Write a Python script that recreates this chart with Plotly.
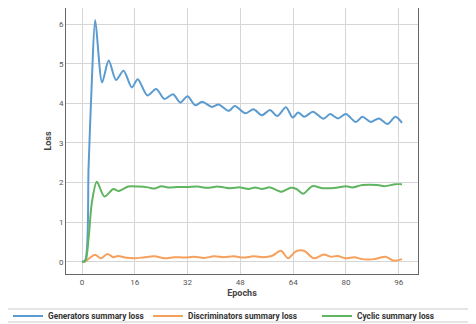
import plotly.graph_objects as go

# Generators summary loss (epoch, value)
gen_epochs = [0, 1, 2, 3, 4, 6.1, 8.1, 10.3, 12.6, 15.1, 16.9, 19.8, 22.5, 25.0, 27.6, 29.8,
              32.0, 34.3, 36.4, 39.4, 41.4, 44.5, 46.3, 49.5, 52.0, 54.5, 57.0, 59.2, 61.8,
              63.9, 65.5, 67.4, 70.0, 73.2, 75.2, 77.6, 80.0, 83.0, 85.0, 87.5, 90.0, 92.6, 95.0, 97.0]
gen_loss = [0.0, 0.05, 2.4, 4.6, 6.1, 4.53, 5.08, 4.59, 4.82, 4.40, 4.61, 4.20, 4.36, 4.11, 4.23, 4.02,
            4.18, 3.95, 4.04, 3.91, 3.97, 3.81, 3.93, 3.75, 3.85, 3.70, 3.83, 3.68, 3.90,
            3.64, 3.77, 3.66, 3.79, 3.61, 3.73, 3.62, 3.73, 3.53, 3.66, 3.53, 3.62, 3.48, 3.66, 3.51]

# Discriminators summary loss
disc_epochs = [0, 1, 2, 4, 5.7, 7.7, 9.5, 11, 13, 16, 19, 22, 25, 28, 31, 34, 37, 40, 43, 46, 49,
               52, 55, 57.5, 60.3, 62.5, 64.7, 67.3, 70.3, 73.3, 75.4, 77.4, 80, 82.5, 85, 88.6,
               92, 94.6, 97]
disc_loss = [0.0, 0.01, 0.08, 0.18, 0.09, 0.20, 0.12, 0.15, 0.11, 0.09, 0.12, 0.14, 0.09, 0.12,
             0.11, 0.13, 0.10, 0.14, 0.12, 0.14, 0.11, 0.14, 0.12, 0.15, 0.28, 0.09, 0.26, 0.28,
             0.09, 0.19, 0.13, 0.15, 0.09, 0.12, 0.07, 0.07, 0.13, 0.03, 0.07]

# Cyclic summary loss
cyc_epochs = [0, 1, 2, 3, 4.5, 6.8, 9.5, 11, 14, 17, 20, 22, 24, 26, 29, 32, 35, 38, 41, 43, 45,
              48, 50.5, 52.5, 54.5, 57, 60.3, 63.3, 65, 67, 69.8, 73, 77, 80, 82, 85, 89.5,
              91.6, 95, 97]
cyc_loss = [0.0, 0.02, 0.6, 1.5, 2.02, 1.65, 1.84, 1.79, 1.90, 1.90, 1.88, 1.85, 1.91, 1.88, 1.89,
            1.89, 1.90, 1.87, 1.90, 1.88, 1.86, 1.88, 1.84, 1.88, 1.84, 1.88, 1.77, 1.87, 1.84,
            1.72, 1.91, 1.86, 1.87, 1.91, 1.88, 1.94, 1.94, 1.91, 1.96, 1.96]

x_ticks = [0, 16, 32, 48, 64, 80, 96]
y_ticks = [0, 1, 2, 3, 4, 5, 6]

names = ["Generators summary loss", "Discriminators summary loss", "Cyclic summary loss"]
colors = ["#5b9bd0", "#f5a05c", "#5fb560"]

fig = go.Figure()
series = [(gen_epochs, gen_loss), (disc_epochs, disc_loss), (cyc_epochs, cyc_loss)]
legends = ["legend", "legend2", "legend3"]
for (xs, ys), name, col, lg in zip(series, names, colors, legends):
    fig.add_trace(go.Scatter(x=xs, y=ys, mode="lines", name=name, legend=lg, showlegend=True,
                             line=dict(color=col, width=2, shape="spline", smoothing=0.8)))

# page body has an 8px margin, so the figure is 8px smaller than the window
W, H = 468, 316
legfont = dict(family="Roboto", size=8.3, color="#333333", weight="bold")
common = dict(orientation="h", xref="container", yref="container", xanchor="left",
              yanchor="middle", y=(H - 308) / H, bgcolor="rgba(0,0,0,0)", borderwidth=0,
              font=legfont, visible=True)

fig.update_layout(
    width=W, height=H, showlegend=True,
    margin=dict(l=58, r=58, t=0, b=50, autoexpand=False),
    paper_bgcolor="white", plot_bgcolor="white",
    font=dict(family="Roboto", size=8, color="#555555"),
    xaxis=dict(range=[-4.85, 101.85], tickvals=x_ticks, showgrid=True, gridcolor="#d6d6d6",
               gridwidth=1, zeroline=False, showline=True, linecolor="#666666", linewidth=1,
               mirror=True, ticks="", tickfont=dict(size=8, color="#555555"),
               title=dict(text="<b>Epochs</b>", font=dict(size=9, color="#444444"), standoff=4)),
    yaxis=dict(range=[-0.305, 6.405], tickvals=y_ticks, showgrid=True, gridcolor="#d6d6d6",
               gridwidth=1, zeroline=False, showline=True, linecolor="#666666", linewidth=1,
               mirror=True, ticks="", tickfont=dict(size=8, color="#555555"),
               title=dict(text="<b>Loss</b>", font=dict(size=9, color="#444444"), standoff=5)),
    legend=dict(common, x=0),
    legend2=dict(common, x=140 / W),
    legend3=dict(common, x=309 / W),
    shapes=[dict(type="rect", xref="paper", yref="paper",
                 x0=(-3 - 58) / 352, x1=(470 - 58) / 352,
                 y0=-(314 - 266) / 266, y1=-(301 - 266) / 266,
                 line=dict(color="#cccccc", width=1), fillcolor="rgba(0,0,0,0)", layer="below")],
)

fig.write_html("out.html")
